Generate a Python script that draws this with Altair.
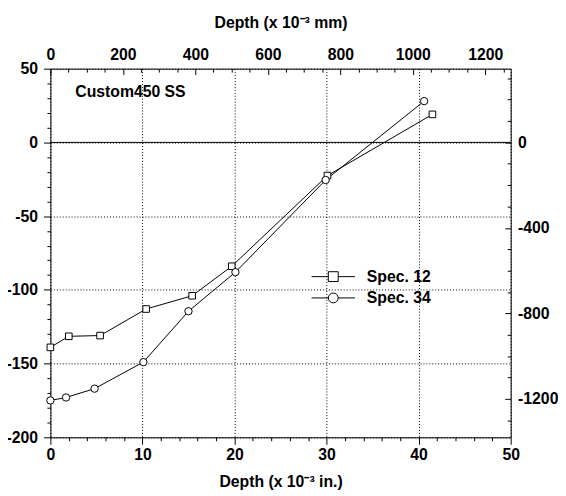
import altair as alt
import pandas as pd

# ---- data ----
series_names = ["Spec. 12", "Spec. 34"]
depth_12 = [0, 2.0, 5.4, 10.4, 15.4, 19.7, 30.1, 41.5]
stress_12 = [-139, -131.5, -131, -113, -104, -84, -22.5, 19]
depth_34 = [0, 1.7, 4.8, 10.1, 15.0, 20.1, 29.9, 40.6]
stress_34 = [-175, -173, -167, -149, -114.5, -88, -25.5, 28]

note_x = [2.7]
note_y = [34.4]
note_text = ["Custom450 SS"]

x_domain = [0, 50]        # x 10^-3 in.
y_domain = [-200, 50]     # ksi
IN_TO_MM = 25.4
KSI_TO_MPA = 6.894757

in_ticks = list(range(0, 51, 2))
ksi_ticks = list(range(-200, 51, 10))
mm_ticks = list(range(0, 1271, 50))
mpa_ticks = list(range(-1300, 301, 100))

FONT = "Liberation Sans"

rows = []
for name, xs, ys in [(series_names[0], depth_12, stress_12), (series_names[1], depth_34, stress_34)]:
    for i, (a, b) in enumerate(zip(xs, ys)):
        rows.append({"depth": a, "stress": b, "series": name, "idx": i})
df = pd.DataFrame(rows)
df2 = pd.DataFrame({"mm": df["depth"] * IN_TO_MM, "mpa": df["stress"] * KSI_TO_MPA})
note_df = pd.DataFrame({"depth": note_x, "stress": note_y, "text": note_text})
zero_df = pd.DataFrame({"stress": [0]})

lab = dict(labelFont=FONT, labelFontSize=16, labelFontWeight="bold", labelColor="black",
           labelFlush=False, labelOverlap=False, labelBound=False)
ttl = dict(titleFont=FONT, titleFontSize=16, titleFontWeight="bold", titleColor="black")

x_axis = alt.Axis(
    orient="bottom", values=in_ticks, domain=False, tickColor="black", tickWidth=1,
    tickSize={"condition": {"test": "datum.value % 10 === 0", "value": 7}, "value": 3.5},
    labelExpr="datum.value % 10 === 0 ? '' + datum.value : ''", labelPadding=3,
    grid=True, gridColor="black", gridDash=[1, 2], gridWidth=1,
    gridOpacity={"condition": {"test": "datum.value % 10 === 0", "value": 1}, "value": 0},
    title="Depth (x 10⁻³ in.)", titlePadding=11, **lab, **ttl)

y_axis = alt.Axis(
    orient="left", values=ksi_ticks, domain=False, tickColor="black", tickWidth=1,
    tickSize={"condition": {"test": "datum.value % 50 === 0", "value": 7}, "value": 3.5},
    labelExpr="datum.value % 50 === 0 ? '' + datum.value : ''", labelPadding=6,
    grid=True, gridColor="black", gridDash=[1, 2], gridWidth=1,
    gridOpacity={"condition": {"test": "datum.value % 50 === 0", "value": 1}, "value": 0},
    title=None, **lab)

top_axis = alt.Axis(
    orient="top", values=mm_ticks, domain=False, tickColor="black", tickWidth=1,
    tickSize={"condition": {"test": "datum.value % 200 === 0", "value": -6}, "value": -3.5},
    labelExpr="datum.value % 200 === 0 ? '' + datum.value : ''", labelPadding=12,
    grid=False, title="Depth (x 10⁻³ mm)", titlePadding=14, **lab, **ttl)

right_axis = alt.Axis(
    orient="right", values=mpa_ticks, domain=False, tickColor="black", tickWidth=1,
    tickSize={"condition": {"test": "datum.value % 400 === 0", "value": -6}, "value": -3.5},
    labelExpr="datum.value % 400 === 0 ? '' + datum.value : ''", labelPadding=13,
    grid=False, title=None, **lab)

x_enc = alt.X("depth:Q", scale=alt.Scale(domain=x_domain, nice=False, zero=False), axis=x_axis)
y_enc = alt.Y("stress:Q", scale=alt.Scale(domain=y_domain, nice=False, zero=False), axis=y_axis)

base = alt.Chart(df)

lines = base.mark_line(color="black", strokeWidth=1).encode(
    x=x_enc, y=y_enc, detail="series:N", order="idx:Q")

pts12 = base.transform_filter(alt.datum.series == series_names[0]).mark_point(
    shape="square", size=45, filled=True, fill="white", stroke="black", strokeWidth=1, opacity=1
).encode(x=x_enc, y=y_enc)

pts34 = base.transform_filter(alt.datum.series == series_names[1]).mark_point(
    shape="circle", size=56, filled=True, fill="white", stroke="black", strokeWidth=1, opacity=1
).encode(x=x_enc, y=y_enc)

SQ_PATH = "M-4.4,0H-1M1,0H4.4M-1,-1H1V1H-1Z"
CI_PATH = "M-4.4,0H-1M1,0H4.4M1,0A1,1,0,1,1,-1,0A1,1,0,1,1,1,0Z"

legend_layer = base.mark_point(opacity=0, color="black", filled=False).encode(
    x=x_enc, y=y_enc,
    shape=alt.Shape("series:N", scale=alt.Scale(domain=series_names, range=[SQ_PATH, CI_PATH]),
                    legend=alt.Legend(title=None, orient="none", legendX=279, legendY=203,
                                      symbolSize=100, symbolStrokeWidth=1, symbolStrokeColor="black",
                                      symbolFillColor="white", symbolOpacity=1,
                                      labelFont=FONT, labelFontSize=16, labelFontWeight="bold",
                                      labelColor="black", labelOffset=26, rowPadding=5.6,
                                      padding=0, labelLimit=300)))

note = alt.Chart(note_df).mark_text(
    align="left", baseline="middle", font=FONT, fontSize=16, fontWeight="bold", color="black"
).encode(x=x_enc, y=y_enc, text="text:N")

zero_rule = alt.Chart(zero_df).mark_rule(color="black", strokeWidth=1).encode(y=y_enc)

inner = alt.layer(zero_rule, lines, pts12, pts34, legend_layer, note)

secondary = alt.Chart(df2).mark_point(opacity=0).encode(
    x=alt.X("mm:Q", scale=alt.Scale(domain=[x_domain[0] * IN_TO_MM, x_domain[1] * IN_TO_MM], nice=False, zero=False), axis=top_axis),
    y=alt.Y("mpa:Q", scale=alt.Scale(domain=[y_domain[0] * KSI_TO_MPA, y_domain[1] * KSI_TO_MPA], nice=False, zero=False), axis=right_axis),
)

chart = alt.layer(inner, secondary).resolve_scale(x="independent", y="independent").properties(
    width=467, height=374,
    padding={"left": 43, "top": 58, "right": 48, "bottom": 56},
    autosize=alt.AutoSizeParams(type="none"),
    background="white",
).configure_view(stroke="black", strokeWidth=1)

chart.save("out.html", embed_options={"renderer": "svg", "actions": False})
